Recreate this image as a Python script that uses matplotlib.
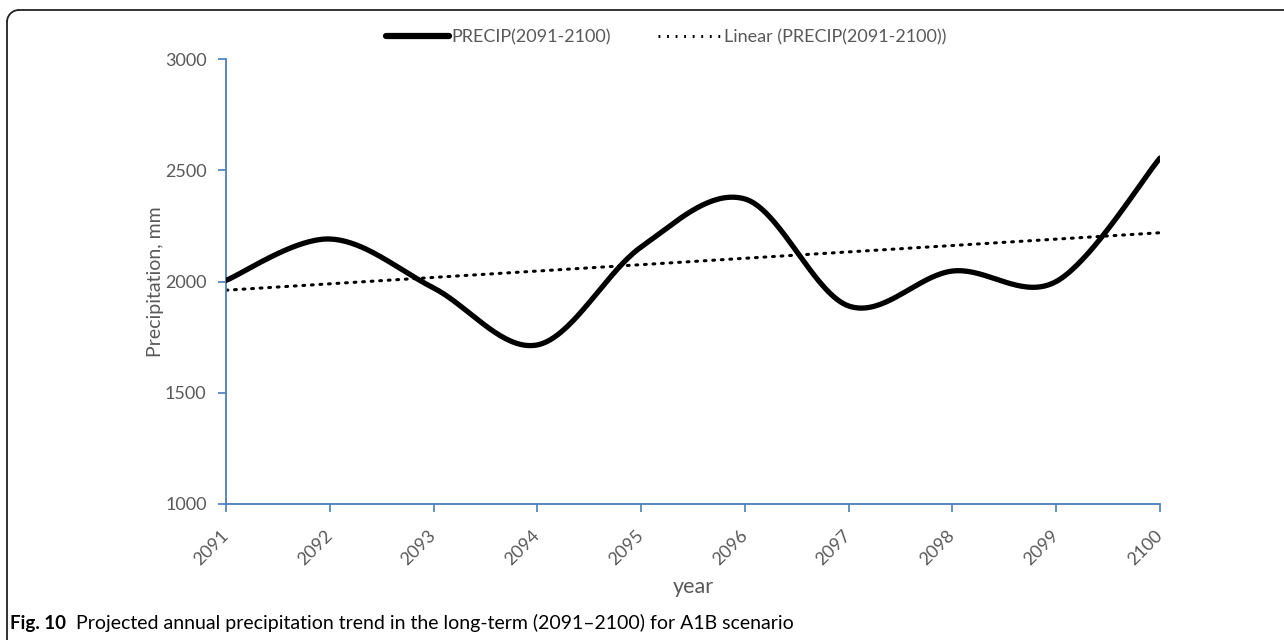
import numpy as np
import matplotlib
matplotlib.use("Agg")
import matplotlib.pyplot as plt
from matplotlib.lines import Line2D
from matplotlib.patches import Arc

years = [2091, 2092, 2093, 2094, 2095, 2096, 2097, 2098, 2099, 2100]
precip = [2005, 2191, 1971, 1715, 2155, 2371, 1890, 2047, 2000, 2555]
yticks = [1000, 1500, 2000, 2500, 3000]
series_label = "PRECIP(2091-2100)"
trend_label = "Linear (PRECIP(2091-2100))"

plt.rcParams['font.family'] = ['Lato', 'DejaVu Sans']

W, H = 1284, 640
fig = plt.figure(figsize=(W / 100, H / 100), dpi=100)
ax = fig.add_axes([226 / W, 1 - 504 / H, (1160 - 226) / W, (504 - 59) / H])


def catmull(xs, ys, n=40):
    P = np.column_stack([xs, ys]).astype(float)
    P = np.vstack([P[0], P, P[-1]])
    out = []
    for i in range(1, len(P) - 2):
        p0, p1, p2, p3 = P[i - 1], P[i], P[i + 1], P[i + 2]
        b1 = p1 + (p2 - p0) / 6
        b2 = p2 - (p3 - p1) / 6
        t = np.linspace(0, 1, n)[:, None]
        seg = ((1 - t) ** 3) * p1 + 3 * ((1 - t) ** 2) * t * b1 + 3 * (1 - t) * t ** 2 * b2 + t ** 3 * p2
        out.append(seg if i == 1 else seg[1:])
    out = np.vstack(out)
    return out[:, 0], out[:, 1]


x = np.arange(len(years))
sx, sy = catmull(x, precip)
ax.plot(sx, sy, color='black', lw=3.8, solid_capstyle='round', solid_joinstyle='round', zorder=3)

coef = np.polyfit(x, precip, 1)
ax.plot([x[0], x[-1]], np.polyval(coef, [x[0], x[-1]]), color='black', lw=2.2,
        linestyle=(0, (0.6, 2.2)), dash_capstyle='round', zorder=2)

ax.set_xlim(0, len(years) - 1)
ax.set_ylim(1000, 3000)
ax.set_yticks(yticks)
ax.set_xticks(x)
ax.set_xticklabels([str(y) for y in years], rotation=45, ha='right', va='center',
                   rotation_mode='anchor')
axis_blue = '#4a7ebb'
for s in ['top', 'right']:
    ax.spines[s].set_visible(False)
for s in ['left', 'bottom']:
    ax.spines[s].set_color(axis_blue)
    ax.spines[s].set_linewidth(1.3)
ax.tick_params(axis='both', colors=axis_blue, length=6, width=1.2, labelcolor='#595959',
               labelsize=13)
ax.tick_params(axis='x', pad=15)
ax.tick_params(axis='y', pad=8)
ax.set_ylabel("Precipitation, mm", fontsize=14, color='#595959', labelpad=1)
ax.set_xlabel("year", fontsize=15.5, color='#595959', labelpad=6)

handles = [Line2D([], [], color='black', lw=4.5, solid_capstyle='round'),
           Line2D([], [], color='black', lw=2.2, linestyle=(0, (0.6, 2.2)))]
fig.legend(handles, [series_label, trend_label], loc='center', bbox_to_anchor=(666 / W, 1 - 37 / H),
           ncol=2, frameon=False, fontsize=13, handlelength=3.5, handletextpad=0.15,
           columnspacing=2.6, labelcolor='#595959')

# caption
fig.text(10 / W, 1 - 623 / H, "Fig. 10", fontsize=13.5, fontweight='bold', va='center', ha='left')
fig.text(76 / W, 1 - 623 / H, "Projected annual precipitation trend in the long-term (2091\u20132100) for A1B scenario",
         fontsize=14, va='center', ha='left')

# border
r = 12
bc = '#222222'
fig.add_artist(Line2D([(7 + r) / W, 1], [1 - 10 / H, 1 - 10 / H], transform=fig.transFigure, color=bc, lw=1.3))
fig.add_artist(Line2D([7 / W, 7 / W], [0, 1 - (10 + r) / H], transform=fig.transFigure, color=bc, lw=1.3))
fig.add_artist(Arc(((7 + r) / W, 1 - (10 + r) / H), 2 * r / W, 2 * r / H, theta1=90, theta2=180,
                   transform=fig.transFigure, color=bc, lw=1.3))

fig.savefig("out.png", dpi=100)
